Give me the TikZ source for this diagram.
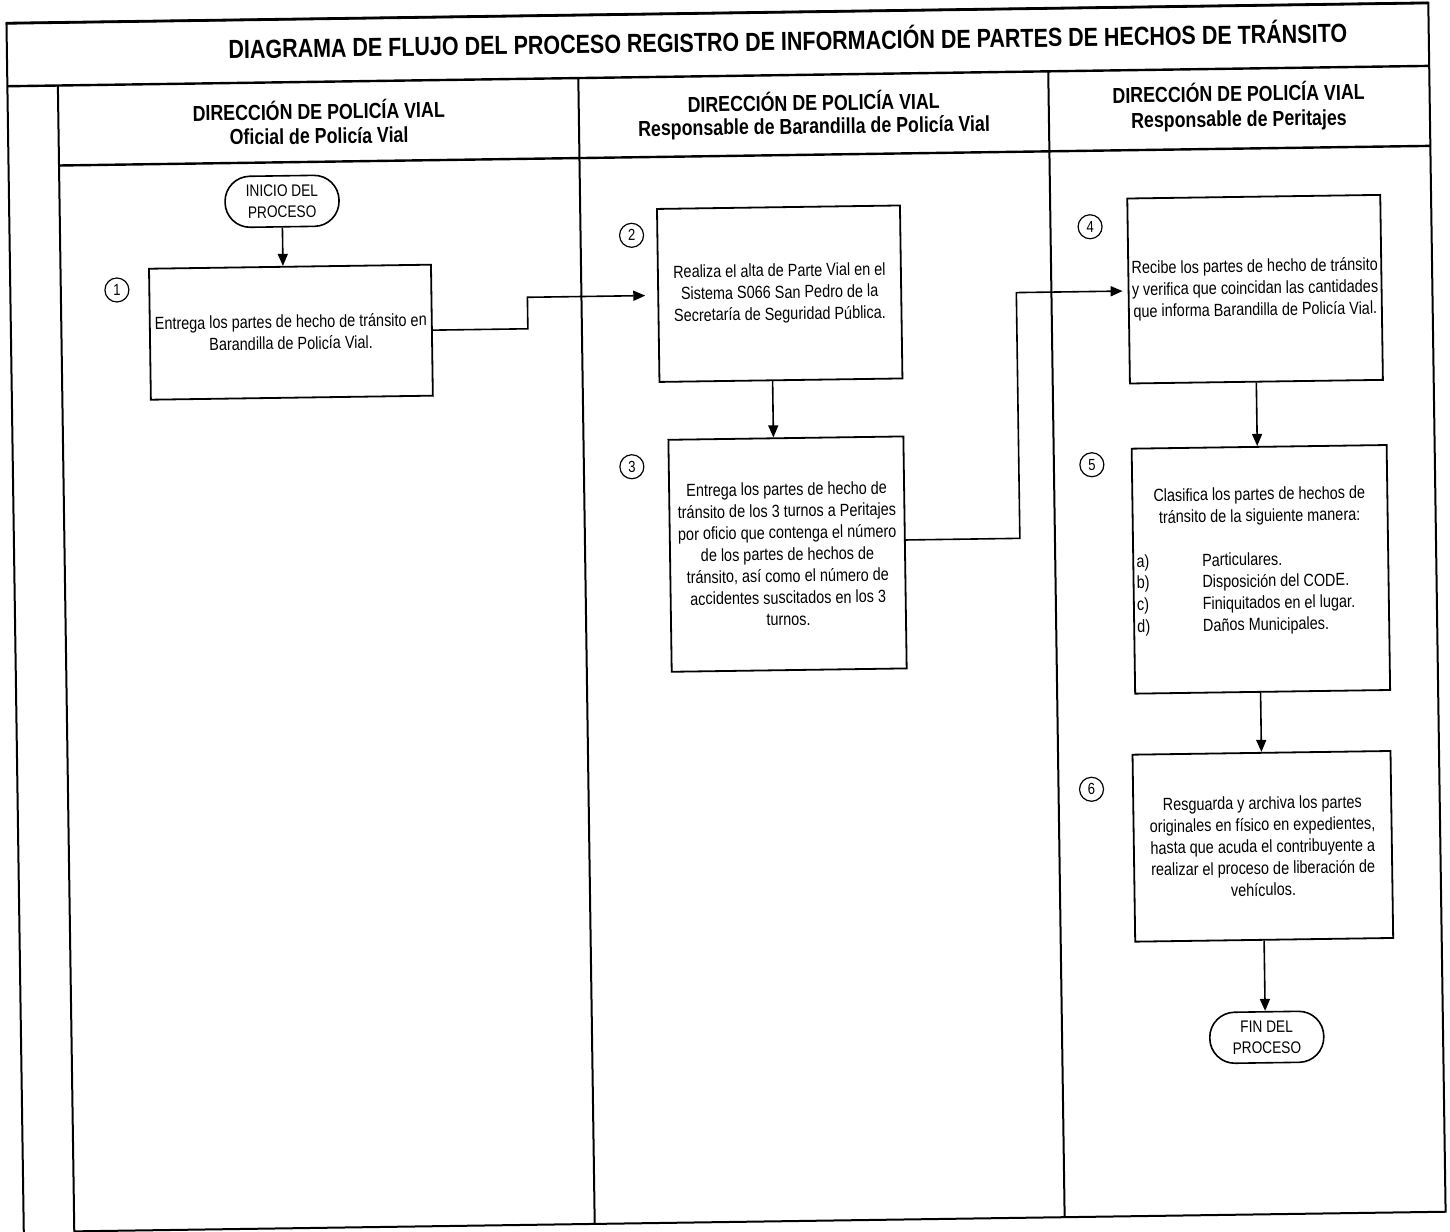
\documentclass[tikz,border=0pt]{standalone}
\usepackage{fontspec}
\setmainfont{Liberation Sans}[FakeStretch=0.82]
\usetikzlibrary{arrows.meta}
\newcommand\dgBody{\fontsize{8.8}{10.85}\selectfont}
\newcommand\dgTerm{\fontsize{8.35}{10.6}\selectfont}
\newcommand\dgNum{\fontsize{8}{9}\selectfont}
\newcommand\dgTitle{\bfseries\fontsize{13.1}{15}\selectfont}
\newcommand\dgHdr{\bfseries\fontsize{10.85}{13}\selectfont}
\begin{document}
\begin{tikzpicture}[x=0.5pt,y=-0.5pt,
  frame/.style={line width=1pt},
  stepbox/.style={draw, line width=0.9pt, inner sep=0pt, align=center, font=\dgBody},
  term/.style={draw, line width=0.8pt, rounded corners=12.5pt, minimum width=57pt, minimum height=25.5pt, align=center, inner sep=0pt, font=\dgTerm},
  num/.style={draw, circle, line width=0.6pt, minimum size=12pt, inner sep=0pt, font=\dgNum},
  conn/.style={line width=0.8pt},
  arr/.style={conn, -{Triangle[length=6pt,width=5pt]}},
  hdr/.style={font=\dgHdr, inner sep=0pt}
]
\useasboundingbox (0,0) rectangle (1450,1231);
\clip (0,0) rectangle (1450,1231);
\begin{scope}[rotate around={0.82:(725,615)}, transform shape]
% frame
\draw[frame] (15,1240) -- (15,13) -- (1437,13) -- (1437,1222) -- (65.5,1222) -- (65.5,76);
\draw[line width=1.4pt] (15,13) -- (1437,13);
\draw[line width=1.2pt] (15,76) -- (1437,76);
\draw[line width=1.2pt] (65.5,156) -- (1437,156);
\draw[frame] (586,76) -- (586,1222);
\draw[frame] (1056,76) -- (1056,1222);
% title and headers
\node[font=\dgTitle, inner sep=0pt] (title) at (796,40) {DIAGRAMA DE FLUJO DEL PROCESO REGISTRO DE INFORMACIÓN DE PARTES DE HECHOS DE TRÁNSITO};
\node[hdr] (h1a) at (326,104) {DIRECCIÓN DE POLICÍA VIAL};
\node[hdr] (h1b) at (326,130) {Oficial de Policía Vial};
\node[hdr] (h2a) at (821,102.3) {DIRECCIÓN DE POLICÍA VIAL};
\node[hdr] (h2b) at (821,129.3) {Responsable de Barandilla de Policía Vial};
\node[hdr] (h3a) at (1246,99.3) {DIRECCIÓN DE POLICÍA VIAL};
\node[hdr] (h3b) at (1246,128.3) {Responsable de Peritajes};
% nodes
\node[term] (start) at (288,195) {INICIO DEL\\PROCESO};
\node[stepbox, minimum width=141pt, minimum height=65.5pt] (box1) at (295,326)
  {Entrega los partes de hecho de tránsito en\\Barandilla de Policía Vial.};
\node[num] (n1) at (121.6,281.3) {1};
\node[stepbox, minimum width=121.5pt, minimum height=86.5pt] (box2) at (784.3,294.5)
  {Realiza el alta de Parte Vial en el\\Sistema S066 San Pedro de la\\Secretaría de Seguridad Pública.};
\node[num] (n2) at (637,234) {2};
\node[stepbox, minimum width=117.5pt, minimum height=116pt] (box3) at (788.4,555)
  {Entrega los partes de hecho de\\tránsito de los 3 turnos a Peritajes\\por oficio que contenga el número\\de los partes de hechos de\\tránsito, así como el número de\\accidentes suscitados en los 3\\turnos.};
\node[num] (n3) at (634,465.4) {3};
\node[stepbox, minimum width=126.5pt, minimum height=92.5pt] (box4) at (1259.7,296.8)
  {Recibe los partes de hecho de tránsito\\y verifica que coincidan las cantidades\\que informa Barandilla de Policía Vial.};
\node[num] (n4) at (1095.6,232) {4};
\node[stepbox, minimum width=127.5pt, minimum height=122.5pt] (box5) at (1261.5,577) {};
\node[font=\dgBody, align=center, inner sep=0pt] (t5) at (1261,514) {Clasifica los partes de hechos de\\tránsito de la siguiente manera:};
\node[font=\dgBody, align=left, inner sep=0pt, anchor=west] (l5) at (1136.8,601)
  {\makebox[32.85pt][l]{a)}Particulares.\\\makebox[32.85pt][l]{b)}Disposición del CODE.\\\makebox[32.85pt][l]{c)}Finiquitados en el lugar.\\\makebox[32.85pt][l]{d)}Daños Municipales.};
\node[num] (n5) at (1094,470) {5};
\node[stepbox, minimum width=129pt, minimum height=93.5pt] (box6) at (1259.5,854)
  {Resguarda y archiva los partes\\originales en físico en expedientes,\\hasta que acuda el contribuyente a\\realizar el proceso de liberación de\\vehículos.};
\node[num] (n6) at (1089,794.5) {6};
\node[term] (end) at (1260.7,1045) {FIN DEL\\PROCESO};
% connectors
\coordinate (b1) at (532,326);
\coordinate (b2) at (532,294.5);
\coordinate (o3) at (905.9,542.6);
\coordinate (b3) at (1021,542.6);
\coordinate (b4) at (1021,296.8);
\coordinate (j3) at (776,410);
\draw[arr] (start.south) -- (start.south |- box1.north);
\draw[arr, shorten >=6pt] (box1.east) -- (b1) -- (b2) -- (box2.west);
\draw[arr] (j3 |- box2.south) -- (j3 |- box3.north);
\draw[arr, shorten >=2.5pt] (o3) -- (b3) -- (b4) -- (box4.west);
\draw[arr] (box4.south) -- (box4.south |- box5.north);
\draw[arr] (box6.north |- box5.south) -- (box6.north);
\draw[arr] (box6.south) -- (box6.south |- end.north);
\end{scope}
\end{tikzpicture}
\end{document}
